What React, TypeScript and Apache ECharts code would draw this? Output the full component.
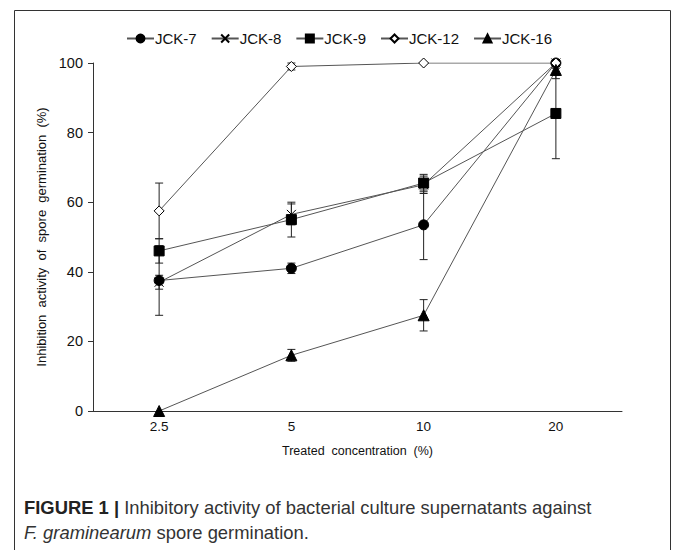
import React, { useEffect, useRef } from "react";
import * as echarts from "echarts";

const categories = ["2.5", "5", "10", "20"];
const seriesNames = ["JCK-7", "JCK-8", "JCK-9", "JCK-12", "JCK-16"];
const jck7 = [37.5, 41, 53.5, 100];
const jck8 = [37, 56.5, 65, 100];
const jck9 = [46, 55, 65.5, 85.5];
const jck12 = [57.5, 99, 100, 100];
const jck16 = [0, 16, 27.5, 98];
const err7 = [10, 1.5, 10, 0];
const err8 = [2, 3, 2.5, 0];
const err9 = [3.5, 5, 2.5, 13];
const err12 = [8, 1, 0, 0];
const err16 = [0, 1.7, 4.5, 2.5];
const yTicks = [0, 20, 40, 60, 80, 100];

const FONT = "'Liberation Sans', Arial, sans-serif";

export default function App() {
  const ref = useRef<HTMLDivElement>(null);
  useEffect(() => {
    if (!ref.current) return;
    const chart = echarts.init(ref.current, null, { renderer: "svg" });
    const values = [jck7, jck8, jck9, jck12, jck16];
    const errs = [err7, err8, err9, err12, err16];
    const symbols = [
      { symbol: "circle", size: 10, fill: "#000" },
      { symbol: "path://M0,0L10,10M10,0L0,10", size: 9, fill: "none" },
      { symbol: "rect", size: 10, fill: "#000" },
      { symbol: "diamond", size: 10, fill: "#fff" },
      { symbol: "triangle", size: 11, fill: "#000" },
    ];
    const errData: number[][] = [];
    values.forEach((vals, s) => {
      vals.forEach((v, i) => {
        const e = errs[s][i];
        if (e > 0) errData.push([i, v - e, v + e]);
      });
    });
    const lineSeries = seriesNames.map((name, s) => ({
      name,
      type: "line",
      data: values[s],
      symbol: symbols[s].symbol,
      symbolSize: symbols[s].size,
      showAllSymbol: true,
      z: 3,
      lineStyle: { color: "#555", width: 1 },
      itemStyle: { color: symbols[s].fill, borderColor: "#000", borderWidth: 1 },
      emphasis: { disabled: true },
    }));
    chart.setOption({
      animation: false,
      textStyle: { fontFamily: FONT },
      legend: {
        data: seriesNames,
        left: 121,
        top: 26,
        itemWidth: 27,
        itemHeight: 10,
        itemGap: 14,
        textStyle: { fontSize: 15, color: "#111", fontFamily: FONT, padding: [0, 0, 0, -4] },
      },
      grid: { left: 93, right: 51, top: 63, bottom: 139, containLabel: false },
      xAxis: {
        type: "category",
        data: categories,
        boundaryGap: true,
        name: "Treated  concentration  (%)",
        nameLocation: "middle",
        nameGap: 33,
        nameTextStyle: { fontSize: 12.5, color: "#111", fontFamily: FONT },
        axisLine: { lineStyle: { color: "#333", width: 1 } },
        axisTick: { length: 4, lineStyle: { color: "#333" } },
        axisLabel: { fontSize: 13.5, color: "#111", margin: 8, fontFamily: FONT },
      },
      yAxis: {
        type: "value",
        min: yTicks[0],
        max: yTicks[yTicks.length - 1],
        interval: 20,
        name: "Inhibition  activity  of  spore  germination  (%)",
        nameLocation: "middle",
        nameGap: 41,
        nameTextStyle: { fontSize: 13, color: "#111", fontFamily: FONT },
        axisLine: { show: true, lineStyle: { color: "#333", width: 1 } },
        axisTick: { show: true, length: 5, lineStyle: { color: "#333" } },
        splitLine: { show: false },
        axisLabel: { fontSize: 14.5, color: "#111", margin: 10, fontFamily: FONT },
      },
      series: [
        {
          type: "custom",
          name: "errors",
          z: 2,
          data: errData,
          renderItem: (params: any, api: any) => {
            const x = api.value(0);
            const top = api.coord([x, api.value(2)]);
            const bot = api.coord([x, api.value(1)]);
            const w = 4;
            const st = { stroke: "#222", lineWidth: 1 };
            return {
              type: "group",
              children: [
                { type: "line", shape: { x1: top[0], y1: top[1], x2: bot[0], y2: bot[1] }, style: st },
                { type: "line", shape: { x1: top[0] - w, y1: top[1], x2: top[0] + w, y2: top[1] }, style: st },
                { type: "line", shape: { x1: bot[0] - w, y1: bot[1], x2: bot[0] + w, y2: bot[1] }, style: st },
              ],
            };
          },
        },
        ...lineSeries,
      ],
      graphic: [
        {
          type: "rect",
          shape: { x: 14.5, y: 10.5, width: 656, height: 600 },
          style: { fill: "none", stroke: "#333", lineWidth: 1 },
          silent: true,
        },
        {
          type: "text",
          left: 24,
          top: 495,
          style: {
            text: "{b|FIGURE 1 |} Inhibitory activity of bacterial culture supernatants against\n{i|F. graminearum} spore germination.",
            fontFamily: FONT,
            fontSize: 18.4,
            lineHeight: 25,
            fill: "#333",
            rich: {
              b: { fontWeight: "bold", fontSize: 18.4, fill: "#222", fontFamily: FONT, lineHeight: 25 },
              i: { fontStyle: "italic", fontSize: 18.4, fill: "#333", fontFamily: FONT, lineHeight: 25 },
            },
          },
        },
      ],
    });
    return () => chart.dispose();
  }, []);
  return (
    <div
      ref={ref}
      style={{ position: "fixed", left: 0, top: 0, width: 673, height: 550, background: "#fff" }}
    />
  );
}
